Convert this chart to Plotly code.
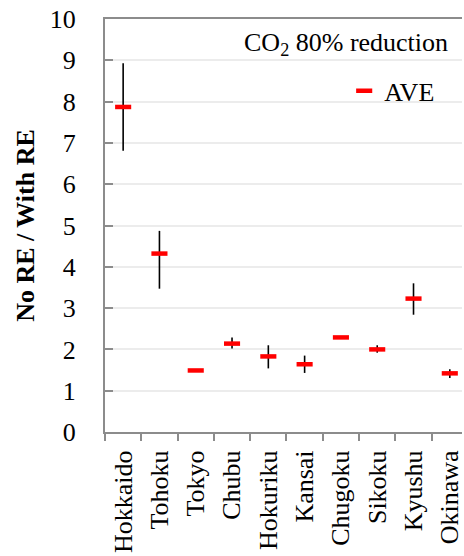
import plotly.graph_objects as go

regions = ["Hokkaido", "Tohoku", "Tokyo", "Chubu", "Hokuriku", "Kansai",
           "Chugoku", "Sikoku", "Kyushu", "Okinawa"]
ave = [7.87, 4.32, 1.49, 2.14, 1.83, 1.64, 2.29, 2.00, 3.23, 1.42]
vmax = [8.93, 4.87, 1.52, 2.29, 2.10, 1.85, 2.31, 2.10, 3.60, 1.52]
vmin = [6.81, 3.47, 1.47, 2.02, 1.54, 1.43, 2.27, 1.92, 2.84, 1.31]
yticks = [0, 1, 2, 3, 4, 5, 6, 7, 8, 9, 10]

FONT = "'Liberation Serif', 'Times New Roman', Times, 'DejaVu Serif', serif"

fig = go.Figure()
fig.add_trace(go.Scatter(
    x=regions, y=ave, mode="markers", name="AVE",
    marker=dict(symbol="line-ew", size=11.5, color="red",
                line=dict(color="red", width=4.5)),
    error_y=dict(type="data", symmetric=False,
                 array=[a - b for a, b in zip(vmax, ave)],
                 arrayminus=[a - b for a, b in zip(ave, vmin)],
                 color="black", thickness=1.6, width=0),
))

fig.update_layout(
    width=464, height=556,
    margin=dict(l=105, r=0, t=19, b=124),
    paper_bgcolor="white", plot_bgcolor="white",
    font=dict(family=FONT, size=26, color="black"),
    showlegend=True,
    legend=dict(x=0.67, y=0.826, xanchor="left", yanchor="middle",
                bgcolor="rgba(0,0,0,0)", font=dict(size=26, family=FONT), itemwidth=30),
    xaxis=dict(
        type="category", range=[-0.5, 9.336],
        showline=True, linecolor="#8c8c8c", linewidth=2, mirror=True,
        ticks="outside", tickson="boundaries", ticklen=7, tickcolor="#8c8c8c",
        tickwidth=1.5, tickangle=-90, showgrid=False,
        tickfont=dict(size=26, family=FONT), ticklabelstandoff=6,
    ),
    yaxis=dict(
        range=[0, 10], tickvals=yticks, ticktext=[str(v) for v in yticks],
        showline=True, linecolor="#8c8c8c", linewidth=2,
        ticks="inside", ticklen=8, tickcolor="#8c8c8c", tickwidth=1.5,
        showgrid=True, gridcolor="#ececec", gridwidth=1.5, zeroline=False,
        tickfont=dict(size=26, family=FONT), ticklabelstandoff=22,
        title=dict(text="<b>No RE / With RE</b>", font=dict(size=26, family=FONT), standoff=8),
    ),
    annotations=[dict(
        x=1, y=1, xref="paper", yref="paper", xanchor="right", yanchor="top",
        xshift=-12, yshift=-7,
        text="CO<sub>2</sub> 80% reduction", showarrow=False,
        font=dict(size=26, family=FONT),
    )],
)

fig.write_html("out.html")
